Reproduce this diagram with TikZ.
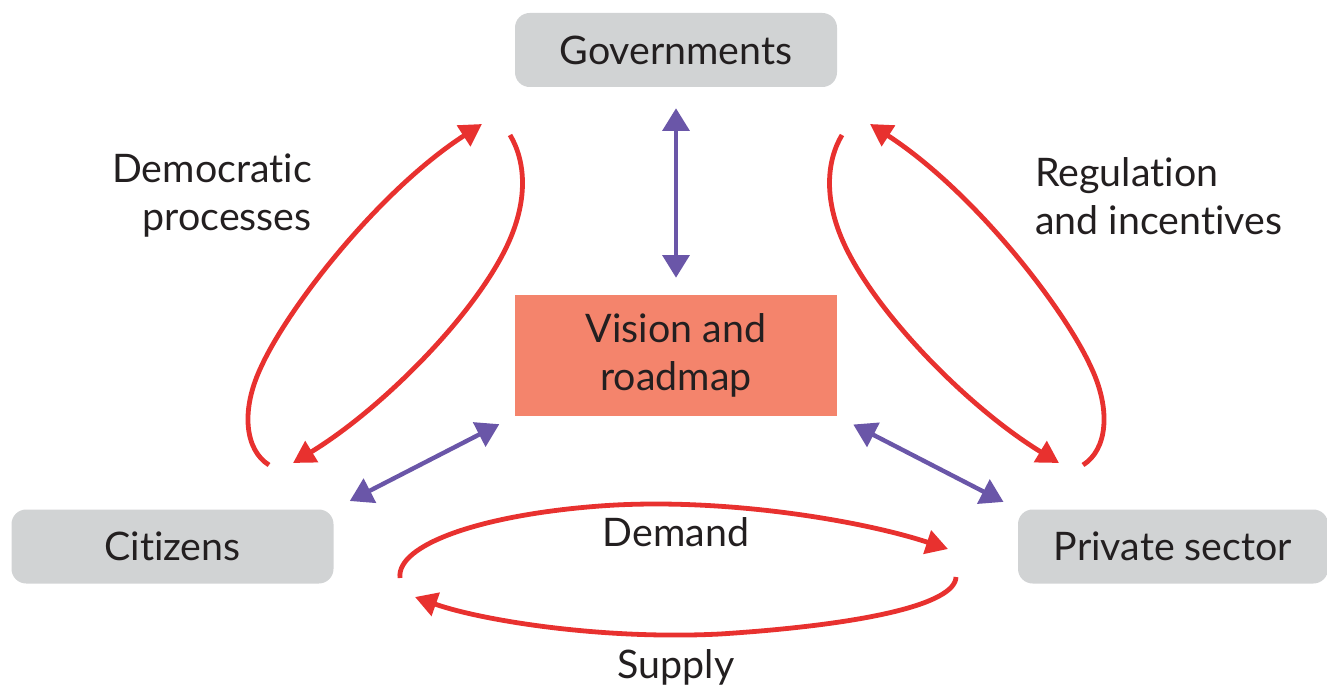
\documentclass[tikz,border=0pt]{standalone}
\usepackage{fontspec}
\setmainfont{Lato}[Ligatures={NoCommon}]
\usetikzlibrary{arrows.meta}
\definecolor{boxgray}{HTML}{D1D3D4}
\definecolor{salmon}{HTML}{F4846C}
\definecolor{redc}{HTML}{E8312F}
\definecolor{purp}{HTML}{6A56A8}
\definecolor{txt}{HTML}{231F20}
\begin{document}
\begin{tikzpicture}[x=0.75pt,y=-0.75pt,
  font=\fontsize{29.5}{36}\selectfont, text=txt,
  graybox/.style={fill=boxgray, rounded corners=11pt, minimum width=241.5pt, minimum height=55.5pt, inner sep=0pt},
  visbox/.style={fill=salmon, minimum width=241.5pt, minimum height=90.75pt, align=center, inner sep=0pt},
  redarrow/.style={draw=redc, line width=3.6pt, -{Triangle[length=16.5pt,width=18pt]}},
  purparrow/.style={draw=purp, line width=3.3pt, {Triangle[length=17pt,width=20pt]}-{Triangle[length=17pt,width=20pt]}},
  lbl/.style={inner sep=0pt}
]
\useasboundingbox (0,0) rectangle (1327,688);

% boxes
\node[graybox] (gov) at (676,50) {Governments};
\node[visbox] (vis) at (676,355.5) {Vision and\\roadmap};
\node[graybox] (cit) at (172.5,546.5) {Citizens};
\node[graybox, minimum width=232.5pt] (priv) at (1173,546.5) {Private sector};

% labels
\node[lbl, anchor=east, align=right] (dem) at (312,196) {Democratic\\processes};
\node[lbl, anchor=west, align=left] (reg) at (1035,196) {Regulation\\and incentives};
\node[lbl] (demand) at (676,532) {Demand};
\node[lbl] (supply) at (676,667) {Supply};

% purple double arrows
\draw[purparrow, shorten <=15.75pt, shorten >=12.75pt] (gov.south) -- (vis.north);
\draw[purparrow, shorten <=13.5pt, shorten >=13pt] (cit.north east) -- (vis.south west);
\draw[purparrow, shorten <=13.5pt, shorten >=12pt] (vis.south east) -- (priv.north west);

% left loop (Democratic processes)
\coordinate (LoS) at (269,465);
\coordinate (LoE) at (482,124);
\coordinate (LiS) at (510,135);
\coordinate (LiE) at (293,463);
\draw[redarrow] (LoS) .. controls (245,450) and (240,410) .. (262,365)
                      .. controls (290,305) and (380,190) .. (LoE);
\draw[redarrow] (LiS) .. controls (525,160) and (530,200) .. (505,250)
                      .. controls (470,320) and (380,410) .. (LiE);

% right loop (Regulation and incentives)
\coordinate (RoS) at (1083,465);
\coordinate (RoE) at (870,124);
\coordinate (RiS) at (842,135);
\coordinate (RiE) at (1059,463);
\draw[redarrow] (RoS) .. controls (1107,450) and (1112,410) .. (1090,365)
                      .. controls (1062,305) and (972,190) .. (RoE);
\draw[redarrow] (RiS) .. controls (827,160) and (822,200) .. (847,250)
                      .. controls (882,320) and (972,410) .. (RiE);

% bottom loop (Demand / Supply)
\coordinate (DS) at (400,578);
\coordinate (DE) at (948,549);
\coordinate (SS) at (956,577);
\coordinate (SE) at (415,597);
\draw[redarrow] (DS) .. controls (396,545) and (480,515) .. (600,506)
                     .. controls (720,497) and (860,520) .. (DE);
\draw[redarrow] (SS) .. controls (955,605) and (860,625) .. (720,634)
                     .. controls (600,640) and (480,620) .. (SE);
\end{tikzpicture}
\end{document}
